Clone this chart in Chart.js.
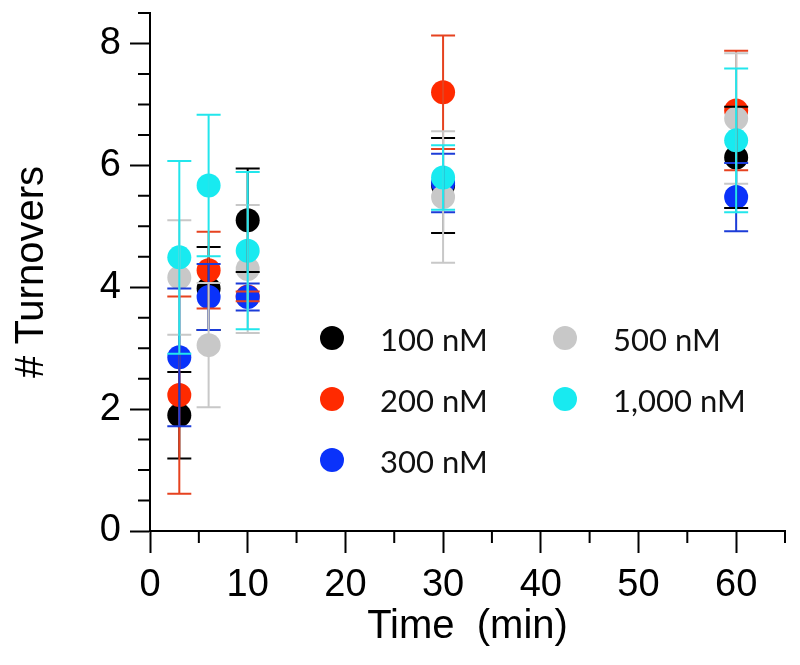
<!DOCTYPE html>
<html>
<head>
<meta charset="utf-8">
<script src="https://cdn.jsdelivr.net/npm/chart.js@4.4.0/dist/chart.umd.min.js"></script>
<style>
  html, body { margin: 0; padding: 0; background: #fff; }
  #wrap { width: 800px; height: 665px; }
</style>
</head>
<body>
<div id="wrap"><canvas id="myChart"></canvas></div>
<script>
// Dados
const times = [3, 6, 10, 30, 60];
const seriesNames = ['100 nM', '200 nM', '300 nM', '500 nM', '1,000 nM'];

const turn100 = [1.90, 3.98, 5.10, 5.67, 6.13];
const err100 = [0.71, 0.68, 0.85, 0.78, 0.83];
const turn200 = [2.23, 4.28, 3.85, 7.20, 6.90];
const err200 = [1.62, 0.63, 0.08, 0.93, 0.98];
const turn300 = [2.85, 3.84, 3.84, 5.71, 5.48];
const err300 = [1.13, 0.54, 0.22, 0.48, 0.56];
const turn500 = [4.16, 3.05, 4.30, 5.48, 6.77];
const err500 = [0.94, 1.02, 1.05, 1.08, 1.07];
const turn1000 = [4.49, 5.67, 4.60, 5.80, 6.41];
const err1000 = [1.58, 1.16, 1.29, 0.53, 1.18];

const xTicks = [0, 10, 20, 30, 40, 50, 60];
const yTicks = [0, 2, 4, 6, 8];

const pointColors = ['#000000', '#ff2a00', '#0a32fa', '#c8c8c8', '#18eaf0'];
const barColors = ['#000000', '#e6421f', '#1c3cd8', '#c8c8c8', '#22e6ec'];

const values = [turn100, turn200, turn300, turn500, turn1000];
const errors = [err100, err200, err300, err500, err1000];

const datasets = seriesNames.map((name, k) => ({
  label: name,
  data: times.map((t, i) => ({ x: t, y: values[k][i] })),
  errors: errors[k],
  backgroundColor: pointColors[k],
  barColor: barColors[k],
  pointRadius: 12,
  pointHoverRadius: 12,
  borderWidth: 0,
  order: 5 - k
}));

// error bars (drawn after all points, cyan last)
const errorBars = {
  id: 'errorBars',
  afterDatasetsDraw(chart) {
    const { ctx, scales: { x, y } } = chart;
    ctx.save();
    ctx.lineWidth = 2;
    chart.data.datasets.forEach(ds => {
      ctx.strokeStyle = ds.barColor;
      ds.data.forEach((p, i) => {
        const px = x.getPixelForValue(p.x);
        const top = y.getPixelForValue(p.y + ds.errors[i]);
        const bot = y.getPixelForValue(p.y - ds.errors[i]);
        ctx.beginPath();
        ctx.moveTo(px, top); ctx.lineTo(px, bot);
        ctx.moveTo(px - 12, top); ctx.lineTo(px + 12, top);
        ctx.moveTo(px - 12, bot); ctx.lineTo(px + 12, bot);
        ctx.stroke();
      });
    });
    ctx.restore();
  }
};

// minor ticks
const minorTicks = {
  id: 'minorTicks',
  afterDraw(chart) {
    const { ctx, chartArea, scales: { x, y } } = chart;
    ctx.save();
    ctx.strokeStyle = '#000';
    ctx.lineWidth = 2;
    ctx.beginPath();
    for (let v = x.min; v <= x.max; v += 5) {
      if (v % 10 === 0) continue;
      const px = x.getPixelForValue(v);
      ctx.moveTo(px, chartArea.bottom);
      ctx.lineTo(px, chartArea.bottom + 12);
    }
    for (let v = y.min; v <= y.max; v += 0.5) {
      if (v % 2 === 0) continue;
      const py = y.getPixelForValue(v);
      ctx.moveTo(chartArea.left, py);
      ctx.lineTo(chartArea.left - 12, py);
    }
    ctx.stroke();
    ctx.restore();
  }
};

// legend inside the plot, two columns
const insideLegend = {
  id: 'insideLegend',
  afterDraw(chart) {
    const { ctx } = chart;
    const spots = [[332, 338], [332, 399], [332, 460], [565, 338], [565, 399]];
    ctx.save();
    ctx.font = '31px Lato';
    ctx.textBaseline = 'middle';
    chart.data.datasets.forEach((ds, k) => {
      const [cx, cy] = spots[k];
      ctx.beginPath();
      ctx.fillStyle = ds.backgroundColor;
      ctx.arc(cx, cy, 12, 0, Math.PI * 2);
      ctx.fill();
      ctx.fillStyle = '#111';
      ctx.fillText(ds.label, cx + 48, cy + 3);
    });
    ctx.restore();
  }
};

const tickFont = { family: "'Liberation Sans', Arial, sans-serif", size: 38 };
const titleFont = { family: "'Liberation Sans', Arial, sans-serif", size: 40 };

new Chart(document.getElementById('myChart'), {
  type: 'scatter',
  data: { datasets },
  options: {
    responsive: true,
    maintainAspectRatio: false,
    animation: false,
    layout: { padding: { top: 13, right: 15, left: 0, bottom: 0 } },
    plugins: { legend: { display: false }, tooltip: { enabled: false } },
    scales: {
      x: {
        type: 'linear',
        min: 0,
        max: 65,
        afterBuildTicks: s => { s.ticks = xTicks.map(v => ({ value: v })); },
        afterFit: s => {
          s.height = 134;
          s.paddingLeft = 0; s.paddingRight = 0;
        },
        ticks: { font: tickFont, color: '#000', padding: 10, maxRotation: 0 },
        grid: { drawOnChartArea: false, drawTicks: true, tickLength: 22, tickWidth: 2, tickColor: '#000' },
        border: { display: true, color: '#000', width: 2 },
        title: { display: true, text: 'Time  (min)', font: titleFont, color: '#000', padding: { top: 0, bottom: 14 } }
      },
      y: {
        type: 'linear',
        min: 0,
        max: 8.5,
        afterBuildTicks: s => { s.ticks = yTicks.map(v => ({ value: v })); },
        afterFit: s => {
          s.width = 150;
          s.paddingTop = 0; s.paddingBottom = 0;
        },
        ticks: { font: tickFont, color: '#000', padding: 9 },
        grid: { drawOnChartArea: false, drawTicks: true, tickLength: 20, tickWidth: 2, tickColor: '#000' },
        border: { display: true, color: '#000', width: 2 },
        title: { display: true, text: '# Turnovers', font: titleFont, color: '#000', padding: { top: 8, bottom: 0 } }
      }
    }
  },
  plugins: [errorBars, minorTicks, insideLegend]
});
</script>
</body>
</html>
